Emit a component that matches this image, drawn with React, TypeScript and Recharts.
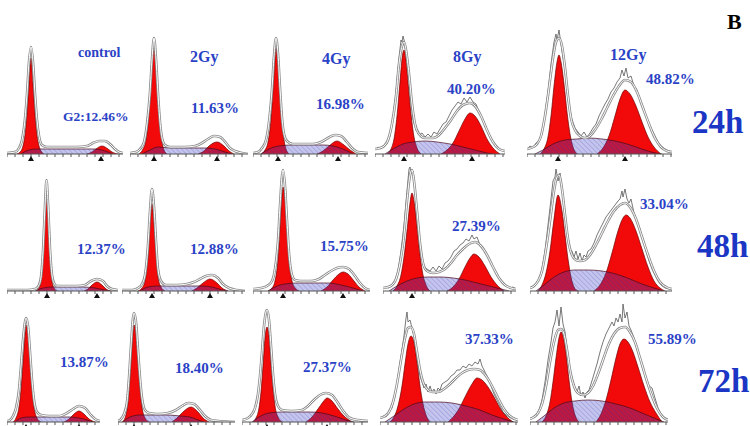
import { ComposedChart, Area, Line, XAxis, YAxis, ReferenceDot } from "recharts";

type Pt = [number, number];

// column / row labels
const DOSES = ["control", "2Gy", "4Gy", "8Gy", "12Gy"];
const TIMES = ["24h", "48h", "72h"];
const G2_24H = ["G2:12.46%", "11.63%", "16.98%", "40.20%", "48.82%"];
const G2_48H = ["12.37%", "12.88%", "15.75%", "27.39%", "33.04%"];
const G2_72H = ["13.87%", "18.40%", "27.37%", "37.33%", "55.89%"];

// ---- 24h ----
const c24G1: Pt[] = [[10,0],[14,3],[16,8],[18,19],[20,40],[22,70],[24,96],[26,70],[28,40],[30,19],[32,8],[34,3],[37,0]];
const c24S: Pt[] = [[14,0],[22,4],[30,5],[50,5],[70,5],[88,5],[98,3],[106,0]];
const c24G2: Pt[] = [[80,0],[85,2],[89,5],[95,8],[101,5],[105,2],[111,0]];
const c24Env: Pt[] = [[0,1],[8,2],[12,6],[15,14],[18,35],[20,60],[22,92],[24,107],[26,92],[28,60],[30,34],[32,18],[35,9],[40,7],[50,7],[60,7],[70,7],[80,8],[86,11],[92,13],[98,13],[104,9],[108,5],[112,2],[116,1]];

const g2y24G1: Pt[] = [[9,0],[13,5],[16,14],[18,30],[20,55],[22,88],[24,112],[26,88],[28,55],[30,28],[32,12],[34,4],[37,0]];
const g2y24S: Pt[] = [[12,0],[20,4],[28,7],[40,6],[60,6],[75,6],[85,5],[95,2],[102,0]];
const g2y24G2: Pt[] = [[68,0],[74,3],[79,8],[87,12],[94,8],[99,3],[104,0]];
const g2y24Env: Pt[] = [[0,1],[6,2],[10,5],[14,12],[17,30],[20,62],[22,95],[24,116],[26,95],[28,60],[30,32],[32,16],[35,9],[40,7],[55,7],[65,8],[72,11],[78,15],[84,18],[90,17],[96,11],[100,6],[105,3],[112,1],[118,0]];

const g4y24G1: Pt[] = [[8,0],[12,4],[15,12],[18,35],[20,65],[22,96],[23,106],[25,90],[27,60],[29,32],[31,14],[33,5],[36,0]];
const g4y24S: Pt[] = [[8,0],[16,5],[26,8],[40,9],[55,9],[70,9],[80,8],[90,5],[100,0]];
const g4y24G2: Pt[] = [[64,0],[70,3],[76,8],[84,13],[91,9],[97,4],[103,0]];
const g4y24Env: Pt[] = [[0,1],[5,2],[9,6],[13,14],[16,32],[19,65],[21,98],[23,116],[25,100],[27,66],[29,36],[31,20],[34,13],[40,10],[50,10],[60,10],[68,12],[75,16],[82,19],[88,18],[94,12],[99,6],[105,2],[115,1]];

const g8y24G1: Pt[] = [[12,0],[16,5],[19,15],[22,38],[25,72],[27,95],[29,104],[31,95],[33,72],[36,40],[39,17],[42,6],[46,0]];
const g8y24S: Pt[] = [[10,0],[18,5],[28,10],[38,12],[50,13],[62,12],[75,10],[88,7],[100,4],[112,1],[118,0]];
const g8y24G2: Pt[] = [[66,0],[72,4],[78,11],[84,23],[90,35],[95,41],[100,38],[106,28],[112,15],[118,6],[125,0]];
const g8y24Env: Pt[] = [[0,5],[5,6],[9,8],[13,14],[17,30],[21,58],[24,90],[27,108],[29,112],[31,104],[34,80],[37,50],[40,30],[44,20],[50,16],[58,16],[64,19],[70,26],[76,34],[82,43],[88,49],[95,51],[100,48],[106,38],[112,24],[118,12],[124,5],[130,3]];
const g8y24Raw: Pt[] = [[0,4],[3,7],[6,5],[9,9],[12,10],[15,18],[18,36],[21,62],[24,96],[26,114],[27,112],[28,118],[30,110],[32,92],[34,76],[36,52],[38,34],[41,24],[44,19],[47,21],[50,17],[53,20],[56,17],[59,22],[62,20],[65,25],[68,30],[71,32],[74,38],[77,44],[80,48],[83,52],[86,50],[89,56],[92,52],[95,57],[98,52],[101,50],[104,42],[107,36],[110,30],[113,22],[116,16],[119,11],[122,6],[125,5],[128,3],[130,2]];

const g12y24G1: Pt[] = [[13,0],[17,5],[21,17],[24,38],[27,68],[30,92],[32,99],[34,92],[37,70],[40,42],[43,20],[46,7],[50,0]];
const g12y24S: Pt[] = [[8,0],[16,4],[26,10],[38,14],[50,15],[62,16],[75,15],[88,13],[100,10],[112,6],[124,2],[135,0]];
const g12y24G2: Pt[] = [[70,0],[76,6],[82,18],[88,38],[93,55],[98,64],[103,60],[109,48],[115,32],[121,17],[127,7],[134,0]];
const g12y24Env: Pt[] = [[0,5],[6,7],[10,10],[14,18],[18,38],[22,66],[26,96],[29,112],[32,116],[35,108],[38,86],[41,58],[44,36],[48,24],[53,18],[58,16],[63,18],[68,24],[74,34],[80,46],[86,58],[92,68],[98,74],[104,72],[110,62],[116,46],[122,30],[128,16],[134,7],[140,3],[145,2]];
const g12y24Raw: Pt[] = [[0,4],[3,8],[6,6],[9,11],[12,13],[15,20],[18,40],[21,62],[24,90],[27,112],[29,120],[30,114],[32,124],[34,110],[36,96],[38,86],[40,62],[42,48],[45,34],[48,26],[51,22],[54,18],[57,22],[60,17],[63,21],[66,26],[69,30],[72,38],[75,44],[78,50],[81,55],[84,62],[87,66],[90,72],[93,76],[95,84],[97,78],[99,86],[101,76],[104,78],[107,68],[110,64],[113,54],[116,46],[119,38],[122,30],[125,24],[128,18],[131,12],[134,8],[138,5],[142,3],[145,2]];

// ---- 48h ----
const c48G1: Pt[] = [[29,0],[32,3],[34,10],[36,35],[38,80],[39.5,108],[41,80],[43,35],[45,10],[47,3],[50,0]];
const c48S: Pt[] = [[28,0],[36,3],[46,4],[60,4],[75,4],[88,3],[98,1],[104,0]];
const c48G2: Pt[] = [[77,0],[81,2],[85,6],[90,9],[95,6],[99,2],[103,0]];
const c48Env: Pt[] = [[0,1],[20,1],[28,2],[32,6],[34,14],[36,40],[38,85],[39.5,111],[41,88],[43,42],[45,16],[47,8],[50,5],[60,5],[70,5],[78,6],[84,10],[90,12],[96,10],[100,5],[105,2],[111,1]];

const g2y48G1: Pt[] = [[16,0],[20,3],[23,10],[26,35],[28,66],[30,87],[32,68],[34,38],[36,14],[39,4],[43,0]];
const g2y48S: Pt[] = [[18,0],[26,4],[36,5],[50,5],[65,5],[78,5],[90,4],[100,1],[106,0]];
const g2y48G2: Pt[] = [[70,0],[75,3],[81,8],[88,12],[95,8],[100,3],[106,0]];
const g2y48Env: Pt[] = [[0,1],[10,1],[16,3],[20,7],[23,16],[26,46],[28,80],[30,102],[32,84],[34,50],[36,22],[39,10],[44,6],[55,6],[65,7],[72,9],[78,12],[84,15],[90,16],[96,13],[101,7],[107,3],[115,1],[123,0]];

const g4y48G1: Pt[] = [[15,0],[19,3],[22,10],[25,32],[27,64],[29,96],[30,104],[32,92],[34,60],[36,30],[39,10],[42,3],[46,0]];
const g4y48S: Pt[] = [[15,0],[22,4],[32,7],[45,8],[60,8],[75,8],[88,6],[100,3],[110,0]];
const g4y48G2: Pt[] = [[68,0],[74,4],[80,11],[86,17],[90,19],[95,17],[101,10],[106,4],[112,0]];
const g4y48Env: Pt[] = [[0,2],[8,3],[14,5],[19,10],[22,22],[25,50],[27,85],[29,115],[30,121],[32,105],[34,70],[36,38],[39,16],[42,11],[48,10],[58,10],[66,12],[72,16],[78,20],[84,23],[90,24],[96,22],[102,15],[107,8],[112,3],[117,1]];

const g8y48G1: Pt[] = [[10,0],[14,5],[18,16],[21,34],[24,60],[27,88],[29,98],[31,90],[34,64],[37,36],[40,16],[43,6],[47,0]];
const g8y48S: Pt[] = [[6,0],[14,5],[24,10],[34,13],[45,14],[58,14],[70,13],[82,11],[94,8],[106,5],[118,2],[126,0]];
const g8y48G2: Pt[] = [[64,0],[70,4],[76,12],[82,24],[87,33],[91,37],[96,34],[102,25],[108,14],[114,6],[121,0]];
const g8y48Env: Pt[] = [[0,3],[5,4],[9,6],[13,12],[17,28],[21,56],[24,90],[27,116],[29,121],[31,110],[34,80],[37,48],[40,28],[44,20],[50,18],[56,19],[62,22],[68,28],[74,36],[80,42],[86,47],[92,49],[98,45],[104,36],[110,24],[116,13],[122,6],[128,3],[133,2]];
const g8y48Raw: Pt[] = [[0,2],[3,4],[6,3],[9,7],[12,10],[15,20],[18,40],[21,66],[24,100],[26,122],[27,124],[28,118],[30,120],[32,98],[34,80],[36,54],[38,36],[41,24],[44,22],[47,20],[50,24],[53,20],[56,25],[59,22],[62,28],[65,30],[68,34],[71,40],[74,42],[77,46],[80,48],[83,52],[86,50],[89,56],[91,52],[94,54],[97,46],[100,44],[103,38],[106,32],[109,26],[112,20],[115,14],[118,10],[121,6],[124,5],[127,3],[130,4],[133,2]];

const g12y48G1: Pt[] = [[8,0],[12,6],[16,18],[20,40],[24,72],[28,96],[32,80],[35,56],[38,32],[41,14],[44,4],[48,0]];
const g12y48S: Pt[] = [[6,0],[14,6],[24,14],[34,19],[45,21],[58,21],[72,20],[86,17],[100,12],[112,7],[124,3],[134,0]];
const g12y48G2: Pt[] = [[64,0],[70,6],[76,18],[82,38],[88,60],[93,73],[96,76],[100,73],[106,60],[112,42],[118,24],[124,10],[130,3],[135,0]];
const g12y48Env: Pt[] = [[0,3],[4,5],[8,10],[12,20],[16,42],[20,70],[24,100],[27,114],[29,116],[32,102],[35,76],[38,52],[42,36],[46,31],[50,30],[55,31],[60,36],[66,46],[72,58],[78,70],[84,80],[90,86],[95,88],[100,84],[106,72],[112,54],[118,36],[124,20],[130,9],[136,4],[142,2]];
const g12y48Raw: Pt[] = [[0,2],[3,5],[6,8],[9,12],[12,22],[15,40],[18,66],[21,92],[23,110],[25,114],[26,122],[28,110],[30,118],[32,100],[34,84],[36,66],[38,54],[40,42],[42,40],[44,34],[46,40],[48,32],[50,38],[52,30],[54,36],[56,34],[58,40],[61,42],[64,48],[67,56],[70,62],[73,68],[76,74],[79,78],[82,82],[85,86],[88,90],[90,92],[92,100],[93,94],[95,102],[97,92],[99,88],[101,92],[104,78],[107,70],[110,62],[113,52],[116,40],[119,30],[122,22],[125,16],[128,10],[131,6],[135,3],[139,2],[142,1]];

// ---- 72h ----
const c72G1: Pt[] = [[6,0],[9,4],[12,15],[14,32],[16,60],[18,88],[19,97],[21,88],[23,62],[25,34],[27,15],[30,4],[34,0]];
const c72S: Pt[] = [[8,0],[14,4],[22,5],[35,5],[50,5],[62,5],[72,4],[80,2],[86,0]];
const c72G2: Pt[] = [[57,0],[62,3],[67,8],[72,11],[77,8],[82,3],[88,0]];
const c72Env: Pt[] = [[0,1],[3,2],[6,6],[9,14],[12,32],[14,56],[16,82],[18,100],[19,104],[21,96],[23,70],[25,42],[27,22],[30,10],[34,7],[42,6],[52,6],[60,9],[66,13],[72,16],[78,14],[83,8],[88,3],[93,1]];

const g2y72G1: Pt[] = [[4,0],[7,4],[9,12],[11,30],[13,62],[15,90],[16,97],[18,88],[20,62],[22,34],[24,15],[27,4],[31,0]];
const g2y72S: Pt[] = [[5,0],[12,5],[22,7],[35,7],[50,7],[62,6],[72,5],[80,2],[86,0]];
const g2y72G2: Pt[] = [[54,0],[59,4],[65,10],[73,15],[80,10],[85,4],[91,0]];
const g2y72Env: Pt[] = [[0,1],[3,3],[6,8],[9,20],[11,44],[13,76],[15,104],[16,109],[18,100],[20,72],[22,44],[24,24],[27,12],[31,9],[40,8],[50,9],[58,12],[64,16],[70,19],[76,18],[82,12],[87,6],[93,2],[100,1],[117,0]];

const g4y72G1: Pt[] = [[11,0],[14,4],[17,14],[19,30],[21,56],[23,84],[25,95],[27,86],[29,60],[31,34],[33,16],[36,5],[40,0]];
const g4y72S: Pt[] = [[10,0],[17,5],[27,9],[40,10],[55,10],[68,10],[80,9],[92,6],[104,2],[112,0]];
const g4y72G2: Pt[] = [[64,0],[70,5],[76,13],[81,20],[85,24],[90,21],[96,13],[102,6],[110,0]];
const g4y72Env: Pt[] = [[0,2],[6,4],[10,8],[13,14],[16,28],[18,46],[20,70],[22,96],[24,110],[25,112],[27,102],[29,76],[31,48],[33,28],[36,16],[40,12],[50,11],[60,12],[66,16],[72,22],[78,27],[84,29],[90,27],[96,19],[102,10],[108,4],[116,2],[126,1]];

const g8y72G1: Pt[] = [[10,0],[14,5],[18,16],[22,36],[25,58],[28,78],[31,86],[34,80],[37,60],[40,36],[43,18],[46,7],[50,0]];
const g8y72S: Pt[] = [[5,0],[14,6],[24,13],[34,18],[45,20],[58,20],[72,19],[86,16],[100,12],[112,7],[124,3],[134,0]];
const g8y72G2: Pt[] = [[68,0],[74,6],[80,15],[86,27],[92,38],[97,44],[102,42],[108,35],[114,25],[120,14],[126,6],[133,0]];
const g8y72Env: Pt[] = [[0,4],[5,6],[9,10],[13,20],[17,38],[21,62],[25,84],[28,94],[31,95],[34,88],[37,70],[40,52],[43,40],[47,33],[52,30],[58,30],[64,33],[70,38],[76,44],[82,49],[88,52],[94,53],[100,52],[106,46],[112,36],[118,24],[124,13],[130,6],[135,3],[138,2]];
const g8y72Raw: Pt[] = [[0,3],[3,6],[6,5],[9,10],[12,14],[15,26],[18,46],[21,66],[24,86],[26,104],[27,110],[28,100],[30,102],[32,94],[34,86],[36,72],[38,58],[40,46],[42,40],[44,34],[46,38],[48,30],[50,36],[52,30],[54,33],[56,28],[58,34],[60,32],[62,38],[65,40],[68,42],[71,46],[74,48],[77,52],[80,52],[83,56],[86,54],[89,58],[92,56],[95,60],[98,58],[100,63],[102,56],[105,50],[108,44],[111,36],[114,28],[117,22],[120,16],[123,10],[126,7],[129,5],[133,3],[138,2]];

const g12y72G1: Pt[] = [[12,0],[16,6],[20,20],[23,40],[26,64],[29,84],[31,90],[33,86],[36,68],[39,42],[42,20],[45,7],[49,0]];
const g12y72S: Pt[] = [[6,0],[14,6],[24,14],[34,19],[45,21],[58,22],[72,21],[86,18],[100,14],[112,9],[124,4],[134,0]];
const g12y72G2: Pt[] = [[66,0],[71,8],[76,22],[81,42],[86,64],[90,78],[94,83],[98,80],[103,70],[108,55],[114,36],[120,20],[126,9],[132,0]];
const g12y72Env: Pt[] = [[0,3],[4,5],[8,9],[12,18],[16,36],[20,60],[24,80],[28,92],[31,93],[34,88],[37,72],[40,52],[44,36],[48,29],[53,27],[58,29],[63,36],[68,48],[73,62],[78,76],[84,88],[90,94],[95,95],[100,90],[105,80],[110,64],[116,44],[122,26],[128,12],[133,5],[138,2]];
const g12y72Raw: Pt[] = [[0,2],[3,5],[6,7],[9,12],[12,22],[15,40],[18,62],[21,80],[23,94],[25,100],[27,112],[29,96],[31,115],[33,98],[35,90],[37,74],[39,58],[41,46],[43,38],[45,34],[47,30],[49,36],[51,26],[53,30],[55,24],[57,30],[59,32],[61,38],[64,48],[67,58],[70,70],[73,80],[76,88],[79,94],[82,100],[84,96],[86,104],[88,100],[90,108],[92,100],[93,118],[95,104],[97,110],[99,96],[101,92],[104,84],[107,74],[110,64],[113,52],[116,44],[119,36],[122,34],[125,24],[128,14],[131,8],[134,4],[138,2]];

// G1 / G2 peak markers (channel)
const c24Marks = [24, 94];
const g2y24Marks = [24, 87];
const g4y24Marks = [25, 85];
const g8y24Marks = [29, 97];
const g12y24Marks = [31, 98];
const c48Marks = [40, 90];
const g2y48Marks = [30, 88];
const g4y48Marks = [30, 90];
const g8y48Marks = [29];
const c72Marks = [19, 72];
const g2y72Marks = [16, 73];
const g4y72Marks = [25, 85];

type PanelDef = {
  left: number; base: number; width: number;
  g1: Pt[]; s: Pt[]; g2: Pt[]; env: Pt[]; raw?: Pt[]; marks?: number[];
};

const PANELS: PanelDef[] = [
  { left: 7, base: 154, width: 116, g1: c24G1, s: c24S, g2: c24G2, env: c24Env, marks: c24Marks },
  { left: 130, base: 154, width: 118, g1: g2y24G1, s: g2y24S, g2: g2y24G2, env: g2y24Env, marks: g2y24Marks },
  { left: 253, base: 154, width: 115, g1: g4y24G1, s: g4y24S, g2: g4y24G2, env: g4y24Env, marks: g4y24Marks },
  { left: 375, base: 154, width: 130, g1: g8y24G1, s: g8y24S, g2: g8y24G2, env: g8y24Env, raw: g8y24Raw, marks: g8y24Marks },
  { left: 527, base: 154, width: 145, g1: g12y24G1, s: g12y24S, g2: g12y24G2, env: g12y24Env, raw: g12y24Raw, marks: g12y24Marks },
  { left: 7, base: 291, width: 111, g1: c48G1, s: c48S, g2: c48G2, env: c48Env, marks: c48Marks },
  { left: 122, base: 291, width: 123, g1: g2y48G1, s: g2y48S, g2: g2y48G2, env: g2y48Env, marks: g2y48Marks },
  { left: 253, base: 291, width: 117, g1: g4y48G1, s: g4y48S, g2: g4y48G2, env: g4y48Env, marks: g4y48Marks },
  { left: 383, base: 291, width: 133, g1: g8y48G1, s: g8y48S, g2: g8y48G2, env: g8y48Env, raw: g8y48Raw, marks: g8y48Marks },
  { left: 530, base: 291, width: 142, g1: g12y48G1, s: g12y48S, g2: g12y48G2, env: g12y48Env, raw: g12y48Raw },
  { left: 7, base: 422, width: 93, g1: c72G1, s: c72S, g2: c72G2, env: c72Env, marks: c72Marks },
  { left: 118, base: 422, width: 117, g1: g2y72G1, s: g2y72S, g2: g2y72G2, env: g2y72Env, marks: g2y72Marks },
  { left: 242, base: 422, width: 126, g1: g4y72G1, s: g4y72S, g2: g4y72G2, env: g4y72Env, marks: g4y72Marks },
  { left: 380, base: 422, width: 138, g1: g8y72G1, s: g8y72S, g2: g8y72G2, env: g8y72Env, raw: g8y72Raw },
  { left: 530, base: 422, width: 138, g1: g12y72G1, s: g12y72S, g2: g12y72G2, env: g12y72Env, raw: g12y72Raw },
];

const PLOT_H = 125;
const AXIS_H = 10;
const RED = "#f20a0a";
const BLUE = "#2a42c6";
const SERIF = '"Liberation Serif", "Times New Roman", serif';

const pts = (a: Pt[]) => a.map(([x, y]) => ({ x, y }));

function Triangle(props: any) {
  const { cx, cy } = props;
  return <path d={`M${cx},${cy + 2}l3,5h-6z`} fill="#111" />;
}

function Panel({ p }: { p: PanelDef }) {
  const ticks: number[] = [];
  for (let t = 0; t <= p.width; t += 8) ticks.push(t);
  return (
    <div style={{ position: "absolute", left: p.left, top: p.base - PLOT_H }}>
      <ComposedChart width={p.width} height={PLOT_H + AXIS_H} margin={{ top: 0, right: 0, bottom: 0, left: 0 }}>
        <XAxis
          type="number"
          dataKey="x"
          domain={[0, p.width]}
          allowDataOverflow
          ticks={ticks}
          interval={0}
          tickFormatter={() => ""}
          tickSize={3}
          height={AXIS_H}
          stroke="#555"
        />
        <YAxis type="number" hide domain={[0, PLOT_H]} allowDataOverflow />
        <Area data={pts(p.g1)} dataKey="y" type="monotone" fill={RED} fillOpacity={1} stroke="#6e0000" strokeWidth={0.7} isAnimationActive={false} />
        <Area data={pts(p.g2)} dataKey="y" type="monotone" fill={RED} fillOpacity={1} stroke="#6e0000" strokeWidth={0.7} isAnimationActive={false} />
        <Area data={pts(p.s)} dataKey="y" type="monotone" fill="url(#hatch)" fillOpacity={1} stroke="#4a0818" strokeWidth={0.7} isAnimationActive={false} />
        {p.raw && (
          <Line data={pts(p.raw)} dataKey="y" type="linear" stroke="#555" strokeWidth={0.8} dot={false} isAnimationActive={false} />
        )}
        <Line data={pts(p.env)} dataKey="y" type="monotone" stroke="#8a8a8a" strokeWidth={2.6} dot={false} isAnimationActive={false} />
        <Line data={pts(p.env)} dataKey="y" type="monotone" stroke="#ffffff" strokeWidth={1} dot={false} isAnimationActive={false} />
        {(p.marks || []).map((m) => (
          <ReferenceDot key={m} x={m} y={0} r={0} ifOverflow="visible" shape={Triangle} />
        ))}
      </ComposedChart>
    </div>
  );
}

// label layout: [left, centerY, fontSize]
const DOSE_POS: [number, number, number][] = [[78, 53, 14], [190, 57, 16], [322, 59, 16], [453, 57, 16], [610, 55, 16]];
const POS_24H: [number, number, number][] = [[63, 117, 13.5], [191, 109, 15], [316, 105, 15], [447, 90, 15], [646, 80, 15]];
const POS_48H: [number, number, number][] = [[77, 250, 15], [190, 250, 15], [320, 247, 15], [452, 227, 15], [640, 205, 15]];
const POS_72H: [number, number, number][] = [[60, 363, 15], [175, 369, 15], [303, 368, 15], [465, 340, 15], [648, 340, 15]];
const TIME_POS: [number, number][] = [[692, 123], [697, 247], [698, 382]];

function Label({ text, pos, color = BLUE }: { text: string; pos: [number, number, number]; color?: string }) {
  const [x, cy, fs] = pos;
  return (
    <div
      style={{
        position: "absolute",
        left: x,
        top: cy - fs * 0.52,
        fontFamily: SERIF,
        fontWeight: 700,
        fontSize: fs,
        lineHeight: 1,
        color,
        whiteSpace: "nowrap",
      }}
    >
      {text}
    </div>
  );
}

export default function App() {
  return (
    <div style={{ position: "absolute", left: 0, top: 0, width: 750, height: 426, background: "#fff", overflow: "hidden" }}>
      <svg width="0" height="0" style={{ position: "absolute" }}>
        <defs>
          <pattern id="hatch" width="3.5" height="3.5" patternUnits="userSpaceOnUse" patternTransform="rotate(-45)">
            <rect width="3.5" height="3.5" fill="rgba(60,60,195,0.3)" />
            <line x1="0" y1="0" x2="0" y2="3.5" stroke="rgba(40,50,180,0.35)" strokeWidth="1" />
          </pattern>
        </defs>
      </svg>
      {PANELS.map((p, i) => (
        <Panel key={i} p={p} />
      ))}
      {DOSES.map((d, i) => (
        <Label key={d} text={d} pos={DOSE_POS[i]} />
      ))}
      {G2_24H.map((t, i) => (
        <Label key={"a" + i} text={t} pos={POS_24H[i]} />
      ))}
      {G2_48H.map((t, i) => (
        <Label key={"b" + i} text={t} pos={POS_48H[i]} />
      ))}
      {G2_72H.map((t, i) => (
        <Label key={"c" + i} text={t} pos={POS_72H[i]} />
      ))}
      {TIMES.map((t, i) => (
        <Label key={t} text={t} pos={[TIME_POS[i][0], TIME_POS[i][1], 33]} color="#1b36c4" />
      ))}
      <Label text="B" pos={[727, 22, 22]} color="#000" />
    </div>
  );
}
